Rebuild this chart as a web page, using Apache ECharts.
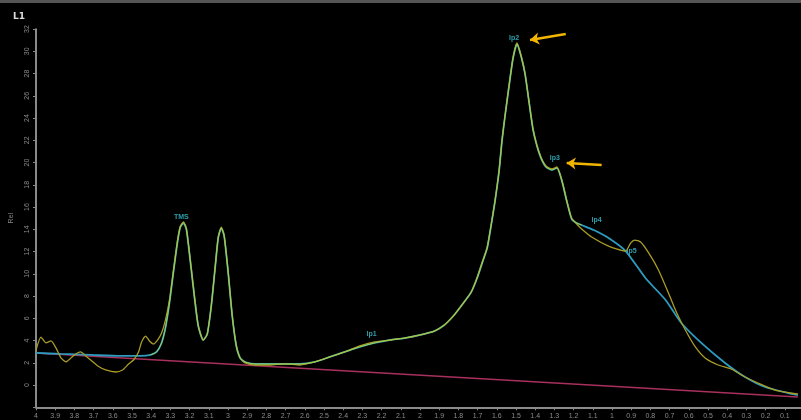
<!DOCTYPE html>
<html>
<head>
<meta charset="utf-8">
<script src="https://cdn.jsdelivr.net/npm/echarts@6.0.0/dist/echarts.min.js"></script>
<style>
  html, body { margin: 0; background: #000; overflow: hidden; }
  #main { width: 807px; height: 420px; }
</style>
</head>
<body>
<div id="main"></div>
<script>
// measured spectrum (olive)
var rawData = [
  [4.000,3.15],[3.974,4.31],[3.948,3.78],[3.922,3.96],[3.896,3.33],[3.870,2.43],[3.844,2.07],[3.818,2.43],
  [3.793,2.79],[3.767,2.97],[3.741,2.61],[3.715,2.25],[3.678,1.71],[3.637,1.35],[3.585,1.17],[3.549,1.35],
  [3.518,1.89],[3.492,2.25],[3.466,2.97],[3.450,3.87],[3.429,4.40],[3.409,3.96],[3.388,3.69],[3.367,4.04],
  [3.346,4.67],[3.326,5.84],[3.305,7.64],[3.284,10.34],[3.263,13.03],[3.248,14.29],[3.232,14.65],[3.217,14.11],
  [3.196,11.24],[3.175,8.09],[3.155,5.39],[3.129,4.04],[3.108,4.58],[3.087,7.19],[3.066,10.79],[3.051,13.30],
  [3.035,14.20],[3.020,13.48],[2.999,10.16],[2.978,6.29],[2.957,3.60],[2.937,2.43],[2.911,1.98],[2.859,1.80],
  [2.781,1.80],[2.703,1.89],[2.626,1.80],[2.548,2.07],[2.470,2.52],[2.392,2.97],[2.314,3.51],[2.237,3.87],
  [2.159,4.04],[2.081,4.22],[2.003,4.49],[1.925,4.85],[1.873,5.39],[1.822,6.29],[1.770,7.46],[1.733,8.36],
  [1.702,9.71],[1.676,11.06],[1.650,12.40],[1.630,14.38],[1.609,16.63],[1.588,19.33],[1.573,22.02],[1.557,24.27],
  [1.536,26.97],[1.516,29.39],[1.495,30.74],[1.474,29.66],[1.453,28.04],[1.433,25.62],[1.412,23.10],[1.391,21.57],
  [1.370,20.49],[1.344,19.69],[1.313,19.42],[1.287,19.60],[1.261,18.43],[1.236,16.63],[1.210,15.01],[1.184,14.47],
  [1.158,14.02],[1.106,13.30],[1.018,12.49],[0.929,12.04],[0.903,12.76],[0.882,13.03],[0.851,12.85],[0.809,11.87],
  [0.758,10.34],[0.706,8.27],[0.665,6.56],[0.618,4.94],[0.566,3.42],[0.515,2.43],[0.447,1.80],[0.380,1.44],
  [0.307,0.72],[0.240,0.18],[0.151,-0.45],[0.068,-0.72],[0.032,-0.81]
];

// fitted envelope (teal)
var fitData = [
  [4.000,2.88],[3.870,2.79],[3.715,2.70],[3.559,2.61],[3.455,2.61],[3.404,2.70],[3.372,2.97],[3.346,3.78],
  [3.326,5.12],[3.305,7.37],[3.284,10.16],[3.263,12.85],[3.248,14.20],[3.232,14.56],[3.217,14.02],[3.196,11.06],
  [3.175,7.91],[3.155,5.30],[3.129,4.04],[3.108,4.58],[3.087,7.10],[3.066,10.70],[3.051,13.21],[3.035,14.11],
  [3.020,13.39],[2.999,10.07],[2.978,6.20],[2.957,3.51],[2.937,2.43],[2.911,2.07],[2.859,1.89],[2.781,1.89],
  [2.703,1.89],[2.626,1.89],[2.548,2.07],[2.470,2.52],[2.392,2.97],[2.314,3.42],[2.237,3.78],[2.159,4.04],
  [2.081,4.22],[2.003,4.49],[1.925,4.85],[1.873,5.39],[1.822,6.29],[1.770,7.46],[1.733,8.36],[1.702,9.62],
  [1.676,10.97],[1.650,12.31],[1.630,14.29],[1.609,16.54],[1.588,19.24],[1.573,21.93],[1.557,24.18],[1.536,26.88],
  [1.516,29.30],[1.495,30.65],[1.474,29.57],[1.453,27.96],[1.433,25.53],[1.412,23.01],[1.391,21.48],[1.370,20.40],
  [1.344,19.60],[1.313,19.33],[1.287,19.51],[1.261,18.34],[1.236,16.54],[1.210,14.92],[1.184,14.56],[1.158,14.38],
  [1.095,13.93],[1.018,13.21],[0.929,12.04],[0.826,9.62],[0.721,7.64],[0.639,5.57],[0.535,3.78],[0.411,1.98],
  [0.307,0.72],[0.203,-0.18],[0.084,-0.72],[0.032,-0.90]
];

// straight baseline (pink)
var baseData = [[4.0, 2.88], [0.032, -1.08]];

var peakNames = ['TMS', 'lp1', 'lp2', 'lp3', 'lp4', 'lp5'];
var peakPos = [[3.243,15.1],[2.252,4.58],[1.510,31.2],[1.298,20.4],[1.080,14.83],[0.898,12.04]];

// yellow arrows: [from, to]
var arrowLines = [
  [[1.241,31.55],[1.427,31.01]],
  [[1.054,19.78],[1.236,19.96]]
];

var sumData = fitData.filter(function (p) { return p[0] <= 3.41 && p[0] >= 1.15; });

var myChart = echarts.init(document.getElementById('main'));
var option;

option = {
  backgroundColor: '#000',
  animation: false,
  title: {
    text: 'L1',
    left: 8,
    top: 7,
    textStyle: { color: '#ddd', fontSize: 9, fontWeight: 'bold', fontFamily: 'DejaVu Sans' }
  },
  graphic: [
    { type: 'rect', left: 0, top: 0, shape: { width: 807, height: 3 }, style: { fill: '#555' } }
  ],
  grid: { left: 35, right: 1, top: 29, bottom: 12.75 },
  xAxis: {
    type: 'value',
    inverse: true,
    min: 0,
    max: 4,
    interval: 0.1,
    splitLine: { show: false },
    axisLine: { onZero: false, lineStyle: { color: '#b8b8b8', width: 1.5 } },
    axisTick: { lineStyle: { color: '#888' }, length: 3 },
    axisLabel: {
      color: '#8a8a8a',
      fontSize: 7,
      margin: 5,
      formatter: function (v) { return v === 0 ? '' : String(+v.toFixed(1)); }
    }
  },
  yAxis: {
    type: 'value',
    position: 'left',
    min: -2,
    max: 32,
    interval: 2,
    name: 'Rel',
    nameLocation: 'middle',
    nameGap: 21,
    nameRotate: 90,
    nameTextStyle: { color: '#888', fontSize: 7 },
    splitLine: { show: false },
    axisLine: { onZero: false, lineStyle: { color: '#b8b8b8', width: 1.5 } },
    axisTick: { lineStyle: { color: '#888' }, length: 3 },
    axisLabel: {
      color: '#8a8a8a',
      fontSize: 7,
      rotate: 90,
      margin: 5,
      formatter: function (v) { return v < 0 ? '' : String(v); }
    }
  },
  series: [
    {
      name: 'baseline',
      type: 'line',
      data: baseData,
      symbol: 'none',
      silent: true,
      lineStyle: { color: '#a8305c', width: 1.5 }
    },
    {
      name: 'fit',
      type: 'line',
      data: fitData,
      symbol: 'none',
      smooth: 0.2,
      lineStyle: { color: '#2e9cc0', width: 1.8 }
    },
    {
      name: 'raw',
      type: 'line',
      data: rawData,
      symbol: 'none',
      smooth: 0.2,
      lineStyle: { color: '#a99c26', width: 1.3 },
      markLine: {
        silent: true,
        symbol: ['none', 'arrow'],
        symbolSize: 9,
        label: { show: false },
        lineStyle: { color: '#f2b600', width: 2.5, type: 'solid' },
        data: arrowLines.map(function (a) {
          return [{ coord: a[0] }, { coord: a[1] }];
        })
      }
    },
    {
      name: 'sum',
      type: 'line',
      data: sumData,
      symbol: 'none',
      smooth: 0.2,
      lineStyle: { color: '#9ad456', width: 1 }
    },
    {
      name: 'peaks',
      type: 'scatter',
      symbolSize: 1,
      itemStyle: { color: 'transparent' },
      data: peakPos.map(function (p, i) { return { value: p, name: peakNames[i] }; }),
      label: {
        show: true,
        position: 'inside',
        formatter: '{b}',
        color: '#38c4d4',
        fontSize: 7,
        fontWeight: 'bold'
      }
    }
  ]
};

option && myChart.setOption(option);
window.onresize = myChart.resize;
</script>
</body>
</html>
